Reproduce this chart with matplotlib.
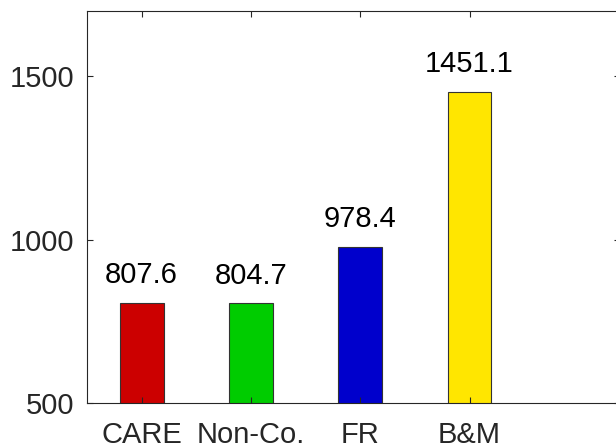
import matplotlib
matplotlib.use("Agg")
import matplotlib.pyplot as plt

categories = ["CARE", "Non-Co.", "FR", "B&M"]
values = [807.6, 804.7, 978.4, 1451.1]
colors = ["#cc0000", "#00cc00", "#0000cc", "#ffe600"]
yticks = [500, 1000, 1500]

plt.rcParams["font.family"] = ["Liberation Sans", "DejaVu Sans"]
fig = plt.figure(figsize=(6.16, 4.48), dpi=100)
ax = fig.add_axes([87/616, 1-403/448, 533/616, 392/448])

x = range(1, len(categories)+1)
ax.bar(x, values, width=0.4, bottom=0, color=colors, edgecolor="#333333", linewidth=0.8)
for xi, v in zip(x, values):
    ax.annotate("%.1f" % v, (xi, v), xytext=(0, 10), textcoords="offset points",
                ha="center", va="bottom", fontsize=21, color="black")

ax.set_xlim(0.5, 0.5 + 533/109.3)
ax.set_ylim(500, 1700)
ax.set_xticks(list(x))
ax.set_xticklabels(categories)
ax.set_yticks(yticks)
ax.tick_params(direction="in", length=4, width=0.8, top=True, right=True,
               labelsize=21, colors="#262626", pad=9)
ax.tick_params(axis="x", pad=13)
for s in ax.spines.values():
    s.set_color("#262626")
    s.set_linewidth(0.8)

fig.savefig("out.png", dpi=100)
